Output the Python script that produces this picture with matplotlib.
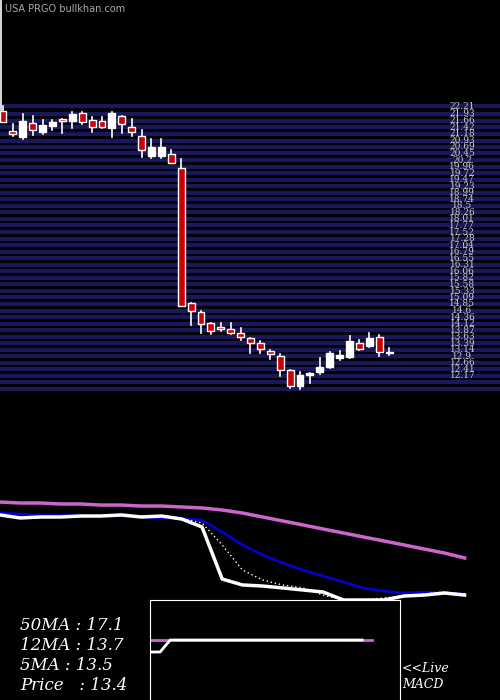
import matplotlib
matplotlib.use("Agg")
import matplotlib.pyplot as plt
import numpy as np

# ---- data ----
opens  = [22.02,21.28,21.06,21.58,21.24,21.47,21.73,21.65,21.95,21.69,21.65,21.39,21.84,21.43,21.09,20.35,20.35,20.42,19.90,14.88,
          14.55,14.14,13.99,13.91,13.77,13.58,13.39,13.10,12.91,12.39,11.79,12.20,12.31,12.50,12.84,12.87,13.39,13.28,13.62,13.06]
highs  = [22.21,21.54,21.91,21.84,21.69,21.69,21.73,21.99,21.99,21.80,21.80,21.99,21.84,21.73,21.32,20.98,20.98,20.57,20.24,14.88,
          14.58,14.14,14.14,14.14,13.95,13.58,13.47,13.13,12.98,12.39,12.31,12.28,12.84,13.06,13.10,13.65,13.51,13.77,13.69,13.21]
lows   = [21.61,21.09,20.98,21.13,21.17,21.32,21.21,21.39,21.54,21.24,21.39,21.06,21.21,21.09,20.31,20.28,20.28,20.09,14.77,14.06,
          13.77,13.73,13.84,13.73,13.51,13.02,13.02,12.80,12.17,11.72,11.68,11.91,12.24,12.46,12.76,12.84,13.13,13.24,12.91,12.95]
closes = [21.61,21.17,21.65,21.32,21.50,21.61,21.65,21.91,21.61,21.43,21.43,21.95,21.54,21.24,20.57,20.68,20.68,20.09,14.77,14.58,
          14.10,13.84,13.91,13.77,13.62,13.39,13.17,12.98,12.39,11.79,12.20,12.28,12.50,13.02,12.95,13.47,13.17,13.58,13.06,13.02]

grid_labels = ["22.21","21.93","21.66","21.42","21.18","20.93","20.69","20.45","20.2","19.96","19.72","19.47","19.23","18.99",
               "18.74","18.5","18.26","18.01","17.77","17.52","17.28","17.04","16.79","16.55","16.31","16.06","15.82","15.58",
               "15.33","15.09","14.85","14.6","14.36","14.12","13.87","13.63","13.39","13.14","12.9","12.66","12.41","12.17"]
extra_lines = [11.93, 11.68]

ma50  = [22.89,22.79,22.79,22.69,22.69,22.58,22.58,22.48,22.48,22.38,22.28,22.07,21.76,21.35,20.94,20.53,20.11,19.70,19.29,18.88,18.47,18.05,17.64,17.13]
ma12  = [21.76,21.66,21.56,21.56,21.45,21.45,21.45,21.35,21.25,21.25,21.04,19.80,18.47,17.44,16.61,15.89,15.27,14.65,14.04,13.73,13.52,13.62,13.52,13.42]
ma5   = [21.56,21.30,21.35,21.35,21.45,21.45,21.56,21.35,21.45,21.20,20.73,18.47,15.89,14.86,14.35,14.04,13.31,12.80,12.80,13.01,13.21,13.42,13.62,13.42]
price = [21.56,21.25,21.35,21.35,21.45,21.45,21.56,21.35,21.45,21.14,20.32,14.96,14.35,14.24,14.04,13.83,13.62,12.80,12.80,12.80,13.21,13.31,13.52,13.31]

macd_line = [0.4,0.4,1.0,1.0,1.0,1.0,1.0,1.0,1.0,1.0,1.0,1.0,1.0,1.0,1.0,1.0,1.0,1.0,1.0,1.0,1.0,1.0,1.0]
macd_sig  = [1.0]*23

info = ["50MA : 17.1", "12MA : 13.7", "5MA : 13.5", "Price   : 13.4"]

# ---- figure ----
fig = plt.figure(figsize=(5, 7), dpi=100, facecolor="black")

ax = fig.add_axes([0, 1-395/700, 1, 305/700])
ax.set_facecolor("black")
ax.set_xlim(-0.3, 50.2)
ax.set_ylim(11.46, 22.81)
ax.axis("off")
levels = [float(s) for s in grid_labels] + extra_lines
for lv in levels:
    ax.axhline(lv, color="#18185a", lw=3, zorder=0)
for lab in grid_labels:
    ax.text(46.4, float(lab), lab, color="#cccccc", fontsize=6.5, family="DejaVu Serif",
            ha="center", va="center", zorder=3)
for i, (o, h, l, c) in enumerate(zip(opens, highs, lows, closes)):
    col = "#cc0000" if c < o else "white"
    ax.plot([i, i], [l, h], color="white", lw=1.2, zorder=1)
    lo, hi = min(o, c), max(o, c)
    ax.bar(i, max(hi-lo, 0.05), bottom=lo, width=0.7, color=col,
           edgecolor="white", linewidth=1, zorder=2)

fig.text(5/500, 1-12/700, "USA PRGO bullkhan.com", color="#aaaaaa", fontsize=7)
fig.add_artist(plt.Line2D([1/500, 1/500], [1, 1-110/700], color="white", lw=1.2))

ax2 = fig.add_axes([0, 1-610/700, 1, 120/700])
ax2.set_facecolor("black")
ax2.axis("off")
ax2.set_xlim(0, 500/20.2)
ax2.set_ylim(11.77, 24.13)
xs = np.arange(len(ma50))
ax2.plot(xs, ma50, color="#cc66cc", lw=2.5)
ax2.plot(xs, ma12, color="#0000dd", lw=1.8)
ax2.plot(xs, ma5, color="white", lw=1, ls=(0, (1, 2)))
ax2.plot(xs, price, color="white", lw=2.5)

ax3 = fig.add_axes([150/500, 0, 250/500, 100/700])
ax3.set_facecolor("black")
ax3.set_xticks([]); ax3.set_yticks([])
for s in ["top", "left", "right"]:
    ax3.spines[s].set_color("white")
ax3.spines["bottom"].set_visible(False)
ax3.set_xlim(0, 24.75)
ax3.set_ylim(-2, 3)
mx = np.arange(len(macd_line))
ax3.plot(mx, macd_sig, color="#cc66cc", lw=2)
ax3.plot(mx[:-1], macd_line[:-1], color="white", lw=2)
ax3.set_zorder(5)

for k, t in enumerate(info):
    fig.text(20/500, 1-(625+20*k)/700, t, color="white", fontsize=12,
             family="DejaVu Serif", style="italic", va="center")
fig.text(402/500, 1-676/700, "<<Live\nMACD", color="white", fontsize=9,
         family="DejaVu Serif", style="italic", va="center", linespacing=1.3)

fig.savefig("out.png", dpi=100, facecolor="black")
